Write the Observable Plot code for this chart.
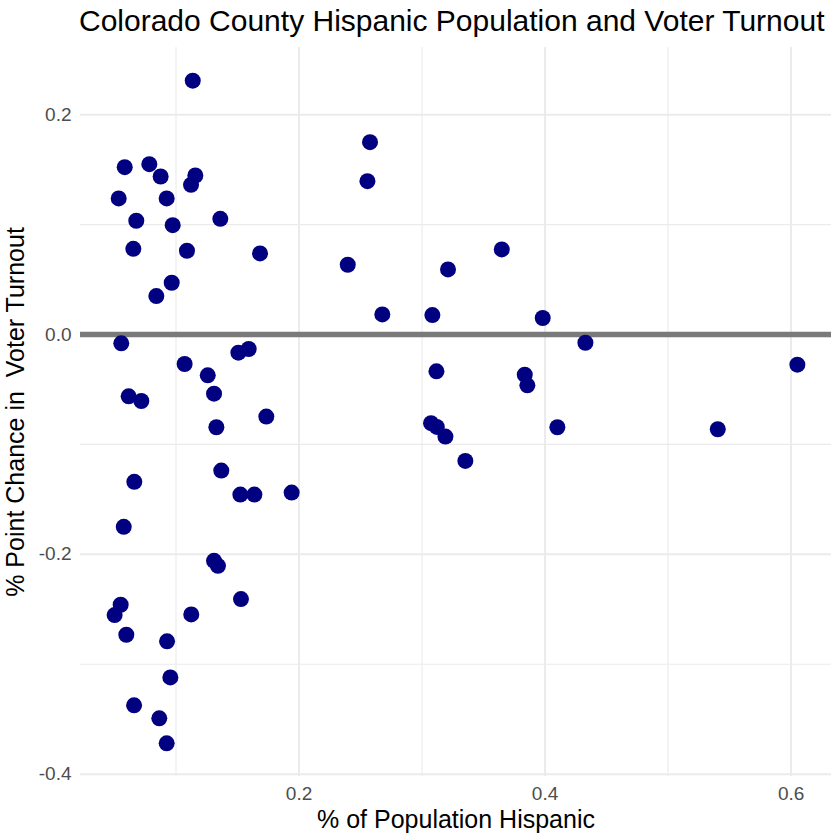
<!DOCTYPE html>
<html>
<head>
<meta charset="utf-8">
<script src="https://cdn.jsdelivr.net/npm/d3@7"></script>
<script src="https://cdn.jsdelivr.net/npm/@observablehq/plot@0.6"></script>
<style>
  html, body { margin: 0; padding: 0; background: #ffffff; }
  #title {
    font-family: "Liberation Sans", Arial, Helvetica, sans-serif;
    font-size: 30px;
    line-height: 30px;
    height: 40px;
    box-sizing: border-box;
    padding-top: 5.6px;
    padding-left: 79px;
    color: #000000;
    white-space: nowrap;
  }
</style>
</head>
<body>
<div id="title">Colorado County Hispanic Population and Voter Turnout</div>
<div id="chart"></div>
<script>
// % of population Hispanic (x) per county
const hispanicShare = [
  0.1136, 0.0583, 0.0783, 0.0875, 0.1157, 0.1122, 0.0534, 0.0924, 0.0677, 0.1360,
  0.0973, 0.0653, 0.1089, 0.1683, 0.0965, 0.0840, 0.0555, 0.1070, 0.1258, 0.1507,
  0.1591, 0.0615, 0.0718, 0.1309, 0.1328, 0.1734, 0.0661, 0.1368, 0.1523, 0.1637,
  0.1940, 0.0575, 0.1309, 0.1341, 0.0550, 0.0501, 0.1124, 0.1528, 0.0596, 0.0927,
  0.0954, 0.0659, 0.0864, 0.0924, 0.2577, 0.2556, 0.2396, 0.2677, 0.3084, 0.3211,
  0.3648, 0.3981, 0.4328, 0.3117, 0.3835, 0.3856, 0.3073, 0.3120, 0.3190, 0.4100,
  0.3352, 0.6051, 0.5404
];
// % point change in voter turnout (y) per county
const turnoutChange = [
  0.2310, 0.1523, 0.1550, 0.1438, 0.1447, 0.1362, 0.1238, 0.1238, 0.1035, 0.1053,
  0.0995, 0.0780, 0.0762, 0.0738, 0.0471, 0.0350, -0.0080, -0.0268, -0.0371, -0.0165,
  -0.0132, -0.0562, -0.0605, -0.0538, -0.0844, -0.0747, -0.1340, -0.1238, -0.1456, -0.1456,
  -0.1438, -0.1750, -0.2059, -0.2105, -0.2459, -0.2553, -0.2547, -0.2407, -0.2732, -0.2792,
  -0.3120, -0.3374, -0.3492, -0.3720, 0.1750, 0.1395, 0.0635, 0.0183, 0.0177, 0.0592,
  0.0774, 0.0150, -0.0075, -0.0335, -0.0365, -0.0462, -0.0807, -0.0841, -0.0929, -0.0844,
  -0.1150, -0.0274, -0.0862
];
const xTicks = [0.2, 0.4, 0.6];
const xMinorTicks = [0.1, 0.3, 0.5];
const yTicks = [-0.4, -0.2, 0.0, 0.2];
const yMinorTicks = [-0.3, -0.1, 0.1];
const xTitle = "% of Population Hispanic";
const yTitle = "% Point Chance in  Voter Turnout";

const points = hispanicShare.map((x, i) => ({x, y: turnoutChange[i]}));

function expand(values, f) {
  const [lo, hi] = d3.extent(values);
  const pad = (hi - lo) * f;
  return [lo - pad, hi + pad];
}

const fmt = d => d.toFixed(1);
const font = '"Liberation Sans", Arial, Helvetica, sans-serif';

const chart = Plot.plot({
  width: 840,
  height: 800,
  marginLeft: 80,
  marginRight: 9,
  marginTop: 7,
  marginBottom: 64,
  style: {fontFamily: font, background: "#ffffff", overflow: "visible"},
  x: {domain: expand(hispanicShare, 0.05)},
  y: {domain: expand(turnoutChange, 0.05)},
  marks: [
    Plot.ruleX(xMinorTicks, {stroke: "#ebebeb", strokeWidth: 1.1}),
    Plot.ruleY(yMinorTicks, {stroke: "#ebebeb", strokeWidth: 1.1}),
    Plot.ruleX(xTicks, {stroke: "#ebebeb", strokeWidth: 2}),
    Plot.ruleY(yTicks, {stroke: "#ebebeb", strokeWidth: 2}),
    Plot.axisX({ticks: xTicks, tickSize: 0, tickPadding: 10, tickFormat: fmt, fontSize: 19, fill: "#4d4d4d", label: null}),
    Plot.axisY({ticks: yTicks, tickSize: 0, tickPadding: 9, tickFormat: fmt, fontSize: 19, fill: "#4d4d4d", label: null}),
    Plot.ruleY([0], {stroke: "#7a7a7a", strokeWidth: 5.5}),
    Plot.dot(points, {x: "x", y: "y", r: 8, fill: "#000080", stroke: "none"}),
    Plot.text([xTitle], {frameAnchor: "bottom", dy: 43, fontSize: 25, fill: "#000000", lineAnchor: "middle", textAnchor: "middle"}),
    Plot.text([yTitle], {frameAnchor: "left", dx: -65, rotate: -90, fontSize: 25, fill: "#000000", lineAnchor: "middle", textAnchor: "middle"})
  ]
});
document.getElementById("chart").appendChild(chart);
</script>
</body>
</html>
